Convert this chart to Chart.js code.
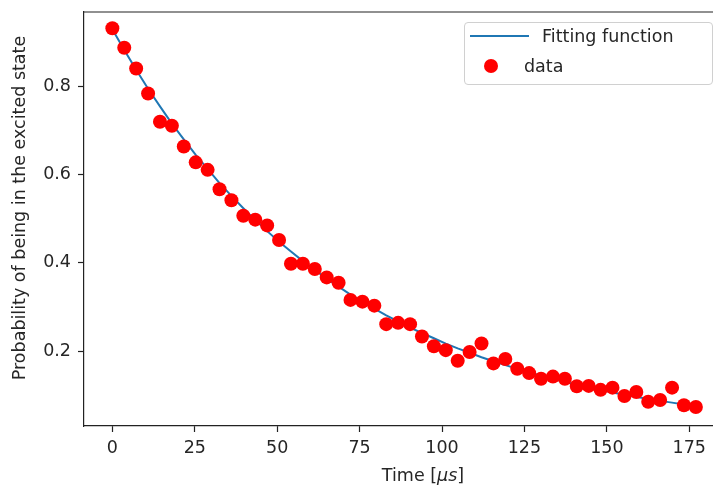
<!DOCTYPE html>
<html>
<head>
<meta charset="utf-8">
<script src="https://cdn.jsdelivr.net/npm/chart.js@4/dist/chart.umd.min.js"></script>
<style>
    body { margin: 0; background: #fff; }
    #wrap { position: relative; width: 713px; height: 488px; overflow: hidden; }
    #chart { position: absolute; left: 0; top: 0; }
    #legend {
        position: absolute; left: 464px; top: 22px; width: 247px; height: 61px;
        border: 1px solid #d0d0d0; border-radius: 4px; background: rgba(255,255,255,0.8);
        font-family: "DejaVu Sans", sans-serif; font-size: 17.5px; color: #262626;
    }
    #legend span { position: absolute; line-height: 20px; white-space: nowrap; }
</style>
</head>
<body>
<div id="wrap">
    <canvas id="chart" width="713" height="488"></canvas>
    <div id="legend"></div>
</div>
<script>
// time axis in microseconds
var timeUs = [0, 3.61, 7.22, 10.84, 14.45, 18.06, 21.67, 25.29, 28.90, 32.51,
    36.12, 39.73, 43.35, 46.96, 50.57, 54.18, 57.80, 61.41, 65.02, 68.63,
    72.24, 75.86, 79.47, 83.08, 86.69, 90.31, 93.92, 97.53, 101.14, 104.76,
    108.37, 111.98, 115.59, 119.20, 122.82, 126.43, 130.04, 133.65, 137.27, 140.88,
    144.49, 148.10, 151.71, 155.33, 158.94, 162.55, 166.16, 169.78, 173.39, 177.00];

var measured = [0.932, 0.888, 0.841, 0.784, 0.720, 0.711, 0.664, 0.628, 0.611, 0.567,
    0.542, 0.507, 0.498, 0.485, 0.452, 0.398, 0.398, 0.386, 0.367, 0.355,
    0.316, 0.312, 0.303, 0.261, 0.264, 0.261, 0.233, 0.211, 0.202, 0.178,
    0.198, 0.217, 0.172, 0.182, 0.160, 0.150, 0.137, 0.142, 0.137, 0.120,
    0.121, 0.112, 0.117, 0.098, 0.107, 0.085, 0.089, 0.117, 0.077, 0.073];

var fitted = [0.930, 0.883, 0.838, 0.795, 0.755, 0.716, 0.680, 0.645, 0.613, 0.581,
    0.552, 0.524, 0.497, 0.472, 0.448, 0.426, 0.404, 0.384, 0.364, 0.346,
    0.328, 0.312, 0.296, 0.281, 0.267, 0.253, 0.241, 0.229, 0.217, 0.206,
    0.196, 0.186, 0.177, 0.168, 0.160, 0.152, 0.144, 0.137, 0.130, 0.124,
    0.118, 0.112, 0.106, 0.101, 0.096, 0.092, 0.087, 0.083, 0.079, 0.075];

var xTicks = [0, 25, 50, 75, 100, 125, 150, 175];
var yTicks = [0.2, 0.4, 0.6, 0.8];

var FONT = '"DejaVu Sans", sans-serif';
var TEXT = '#262626';

function pairs(xs, ys) {
    return xs.map(function(x, i) { return { x: x, y: ys[i] }; });
}

// no extra room for overhanging labels, the axes box is fixed
function noPad(s) {
    s.paddingLeft = s.paddingRight = s.paddingTop = s.paddingBottom = 0;
}

// top spine + axis titles, matplotlib style (right spine is cut off in the original)
var frame = {
    id: 'frame',
    afterDraw: function(chart) {
        var c = chart.ctx, a = chart.chartArea;
        c.save();
        c.strokeStyle = '#222';
        c.lineWidth = 1.2;
        c.beginPath();
        c.moveTo(a.left, a.top);
        c.lineTo(a.right, a.top);
        c.stroke();

        c.fillStyle = TEXT;
        c.textBaseline = 'middle';
        // x title with italic mu s
        var n1 = '17.5px ' + FONT, it = 'italic 17.5px ' + FONT;
        c.font = n1; var w1 = c.measureText('Time [').width, w3 = c.measureText(']').width;
        c.font = it; var w2 = c.measureText('\u03bcs').width;
        var x0 = 423 - (w1 + w2 + w3) / 2;
        c.textAlign = 'left';
        c.font = n1; c.fillText('Time [', x0, 476);
        c.font = it; c.fillText('\u03bcs', x0 + w1, 476);
        c.font = n1; c.fillText(']', x0 + w1 + w2, 476);

        // y title
        c.translate(20, 208);
        c.rotate(-Math.PI / 2);
        c.textAlign = 'center';
        c.font = n1;
        c.fillText('Probability of being in the excited state', 0, 0);
        c.restore();
    }
};

var chart = new Chart(document.getElementById('chart').getContext('2d'), {
    type: 'scatter',
    data: {
        datasets: [{
            label: 'Fitting function',
            data: pairs(timeUs, fitted),
            showLine: true,
            borderColor: '#1f77b4',
            borderWidth: 2,
            pointRadius: 0,
            tension: 0,
            order: 2
        }, {
            label: 'data',
            data: pairs(timeUs, measured),
            showLine: false,
            backgroundColor: '#ff0000',
            borderWidth: 0,
            pointRadius: 7,
            clip: false,
            order: 1
        }]
    },
    options: {
        responsive: false,
        animation: false,
        layout: { autoPadding: false, padding: { left: 0, top: 12, right: 0, bottom: 0 } },
        plugins: { legend: { display: false }, tooltip: { enabled: false } },
        scales: {
            x: {
                type: 'linear',
                min: -8.6,
                max: 182.2,
                afterBuildTicks: function(s) { s.ticks = xTicks.map(function(v) { return { value: v }; }); },
                afterFit: function(s) { s.height = 62; noPad(s); },
                border: { display: true, color: '#222', width: 1.2 },
                grid: { drawOnChartArea: false, drawTicks: true, tickLength: 6, color: '#222', tickWidth: 1.2 },
                ticks: {
                    color: TEXT, padding: 6, maxRotation: 0,
                    font: { family: FONT, size: 17.5 },
                    callback: function(v) { return String(v); }
                }
            },
            y: {
                min: 0.030,
                max: 0.969,
                afterBuildTicks: function(s) { s.ticks = yTicks.map(function(v) { return { value: v }; }); },
                afterFit: function(s) { s.width = 84; noPad(s); },
                border: { display: true, color: '#222', width: 1.2 },
                grid: { drawOnChartArea: false, drawTicks: true, tickLength: 6, color: '#222', tickWidth: 1.2 },
                ticks: {
                    color: TEXT, padding: 7,
                    font: { family: FONT, size: 17.5 },
                    callback: function(v) { return v.toFixed(1); }
                }
            }
        }
    },
    plugins: [frame]
});

// legend box inside the axes, built from the datasets
var lg = document.getElementById('legend');
chart.data.datasets.forEach(function(ds, i) {
    var cy = i === 0 ? 13 : 43;
    var mark = document.createElement('span');
    if (ds.showLine) {
        mark.style.cssText = 'left:5px;top:' + (cy - 1) + 'px;width:59px;height:2px;background:' + ds.borderColor + ';';
    } else {
        mark.style.cssText = 'left:19px;top:' + (cy - 7) + 'px;width:14px;height:14px;border-radius:50%;background:' + ds.backgroundColor + ';';
    }
    lg.appendChild(mark);
    var txt = document.createElement('span');
    txt.textContent = ds.label;
    txt.style.left = (i === 0 ? 77 : 59) + 'px';
    txt.style.top = (cy - 10) + 'px';
    lg.appendChild(txt);
});
</script>
</body>
</html>
